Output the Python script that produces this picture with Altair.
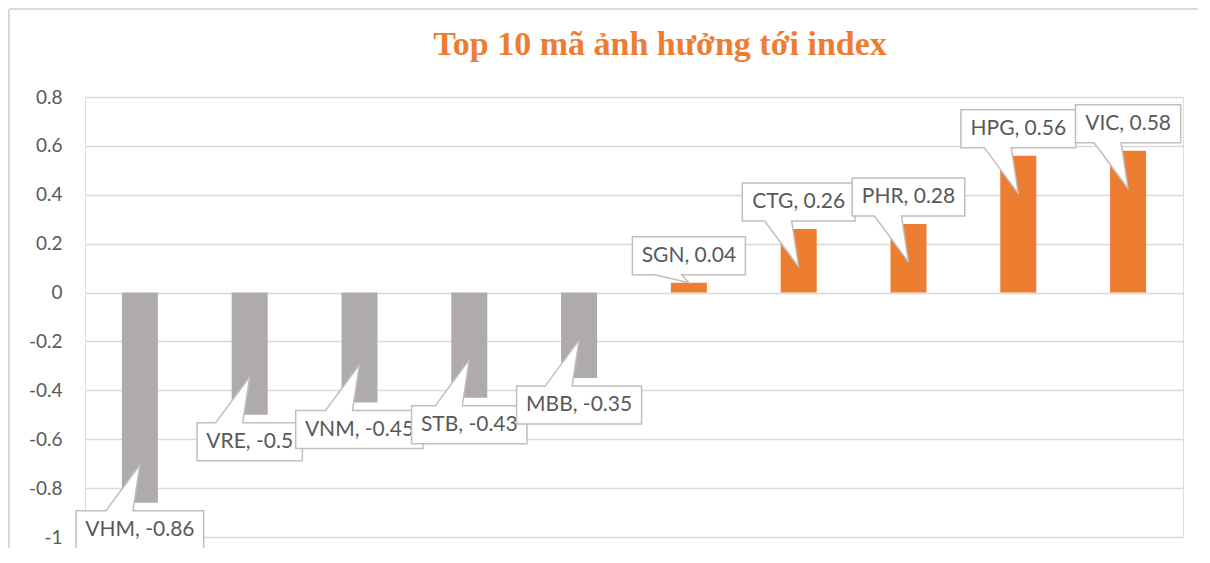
import altair as alt
import pandas as pd

# ---- data ----
tickers = ["VHM", "VRE", "VNM", "STB", "MBB", "SGN", "CTG", "PHR", "HPG", "VIC"]
values = [-0.86, -0.5, -0.45, -0.43, -0.35, 0.04, 0.26, 0.28, 0.56, 0.58]
y_ticks = [-1, -0.8, -0.6, -0.4, -0.2, 0, 0.2, 0.4, 0.6, 0.8]
title_text = "Top 10 mã ảnh hưởng tới index"

# ---- layout / style ----
PLOT_W, PLOT_H = 1098, 440
PAD_L, PAD_T = 77, 89
TOTAL_W, TOTAL_H = 1190, 540
Y_MIN, Y_MAX = -1.0, 0.8
PX_PER_UNIT = PLOT_H / (Y_MAX - Y_MIN)

ORANGE = "#ED7D31"
GRAY = "#AFABAB"
BOX_STROKE = "#BFBFBF"
TEXT_COLOR = "#595959"
LABEL_FONT = "Lato"
LABEL_SIZE = 21

CHAR_W = {'A': 0.68, 'B': 0.66, 'C': 0.70, 'D': 0.77, 'E': 0.58, 'G': 0.74,
          'H': 0.76, 'I': 0.29, 'M': 0.93, 'N': 0.76, 'P': 0.62, 'R': 0.64,
          'S': 0.54, 'T': 0.59, 'V': 0.68, ',': 0.23, '.': 0.23, ' ': 0.19,
          '-': 0.36}


def text_width(s):
    return sum(CHAR_W.get(c, 0.58) for c in s) * LABEL_SIZE


def fmt(v):
    return f"{v:.2f}".rstrip("0").rstrip(".")


GAP, BOX_H = 8, 38


def callout_path(label, value):
    hw = (text_width(label) + 20) / 2
    depth = min(38, max(0, abs(value) * PX_PER_UNIT - 10))
    bl, br = -34, -7
    if value >= 0:
        b = -GAP
        t = -GAP - BOX_H
        pts = [(-hw, t), (hw, t), (hw, b), (br, b), (0, depth), (bl, b), (-hw, b)]
    else:
        t = GAP
        b = GAP + BOX_H
        pts = [(-hw, t), (bl, t), (0, -depth), (br, t), (hw, t), (hw, b), (-hw, b)]
    return "M" + " L".join(f"{x:.1f},{y:.1f}" for x, y in pts) + " Z"


df = pd.DataFrame({"ticker": tickers, "value": values})
df["label"] = [f"{t}, {fmt(v)}" for t, v in zip(tickers, values)]
df["path"] = [callout_path(l, v) for l, v in zip(df["label"], df["value"])]

x_enc = alt.X("ticker:N", axis=None,
              scale=alt.Scale(type="band", domain=tickers,
                              paddingInner=0.672, paddingOuter=0.336))
y_enc = alt.Y("value:Q",
              scale=alt.Scale(domain=[Y_MIN, Y_MAX], nice=False, zero=False),
              axis=alt.Axis(values=y_ticks, title=None, domain=False, ticks=False,
                            labelPadding=23, grid=True, gridColor="#D9D9D9",
                            gridWidth=1.5, labelFont=LABEL_FONT, labelFontSize=19,
                            labelColor=TEXT_COLOR,
                            labelExpr="toString(round(datum.value * 10) / 10)"))

base = alt.Chart(df)

# chart-area frame (left and top edges visible in the reference)
frame_left = base.mark_rule(stroke="#D9D9D9", strokeWidth=2).encode(
    x=alt.value(-PAD_L + 1), y=alt.value(-PAD_T + 1), y2=alt.value(PLOT_H + 60)
)
frame_top = base.mark_rule(stroke="#D9D9D9", strokeWidth=2).encode(
    x=alt.value(-PAD_L + 1), x2=alt.value(PLOT_W + 60), y=alt.value(-PAD_T + 1)
)

bars = base.mark_bar().encode(
    x=x_enc,
    y=y_enc,
    y2=alt.datum(0),
    color=alt.condition("datum.value > 0", alt.value(ORANGE), alt.value(GRAY)),
)

layers = [frame_left, frame_top, bars]
for t, v in zip(tickers, values):
    sub = base.transform_filter(alt.datum.ticker == t)
    box = sub.mark_point(filled=True, fill="white", stroke=BOX_STROKE,
                         strokeWidth=1.5, opacity=1).encode(
        x=x_enc, y=y_enc,
        shape=alt.Shape("path:N", scale=None, legend=None),
        size=alt.value(4),
    )
    dy = -(GAP + BOX_H / 2) if v >= 0 else (GAP + BOX_H / 2)
    txt = sub.mark_text(dy=dy, font=LABEL_FONT, fontSize=LABEL_SIZE,
                        color=TEXT_COLOR, baseline="middle").encode(
        x=x_enc, y=y_enc, text="label:N"
    )
    layers += [box, txt]

# title offset is measured from the top of the drawn bounds (the frame line)
chart = alt.layer(*layers).properties(
    width=PLOT_W,
    height=PLOT_H,
    padding={"left": PAD_L, "top": PAD_T,
             "right": TOTAL_W - PAD_L - PLOT_W, "bottom": TOTAL_H - PAD_T - PLOT_H},
    autosize=alt.AutoSizeParams(type="none"),
    title=alt.TitleParams(title_text, font="Liberation Serif", fontSize=34,
                          fontWeight="bold", color=ORANGE, anchor="middle",
                          frame="group", dx=26, offset=-54),
).configure_view(stroke=None).configure(background="white")

chart.save("out.html", embed_options={"renderer": "svg", "actions": False})
